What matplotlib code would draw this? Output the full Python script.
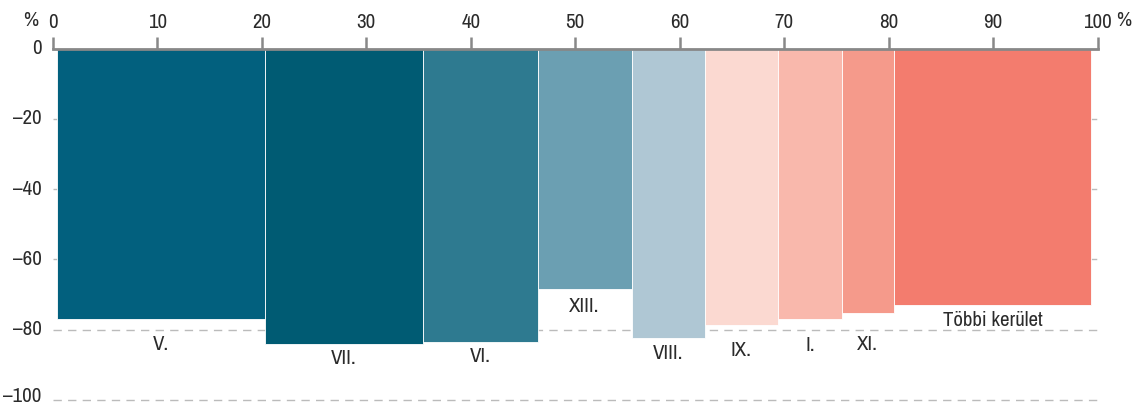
import matplotlib
matplotlib.use("Agg")
import matplotlib.pyplot as plt
from matplotlib import font_manager
from matplotlib.ticker import FixedLocator

# ---- data ----
districts = ["V.", "VII.", "VI.", "XIII.", "VIII.", "IX.", "I.", "XI.", "Többi kerület"]
shares = [19.85, 15.1, 11.0, 9.0, 7.0, 7.0, 6.1, 5.0, 18.9]        # bar widths (%)
values = [-77.0, -84.1, -83.5, -68.5, -82.4, -78.7, -77.0, -75.3, -73.0]  # bar heights (%)
label_y = [-84.1, -88.1, -87.5, -73.3, -86.9, -85.8, -84.4, -84.1, -77.3]
colors = ["#02607E", "#005B73", "#2E7A90", "#6B9FB2", "#AFC7D4",
          "#FBD9D1", "#F9B8AC", "#F59A8B", "#F37C6E"]
x_start = 0.45
x_ticks = [0, 10, 20, 30, 40, 50, 60, 70, 80, 90, 100]
y_ticks = [0, -20, -40, -60, -80, -100]

# look for a condensed / narrow face if one is installed
cond = None
for f in font_manager.fontManager.ttflist:
    nm = f.name
    if ("Condensed" in nm or "Narrow" in nm) and f.style == "normal":
        cond = nm
        break
FONT = ([cond] if cond else []) + ["Liberation Sans", "DejaVu Sans"]
plt.rcParams["font.family"] = FONT
TXT = "#2b2b2b"
FS = 15 if cond else 11.5

fig = plt.figure(figsize=(11.34, 4.07), dpi=100)
ax = fig.add_axes([0.0465, 0.0086, 0.9215, 0.8722])

lefts = []
pos = x_start
for w in shares:
    lefts.append(pos)
    pos += w

ax.bar(lefts, values, width=shares, align="edge", color=colors,
       edgecolor="#ffffff", linewidth=0.6, zorder=3)

for l, w, ly, name in zip(lefts, shares, label_y, districts):
    ax.text(l + w / 2, ly, name, ha="center", va="center",
            fontsize=FS, color=TXT, zorder=4)

ax.set_xlim(0, 100)
ax.set_ylim(-101, 0)

# gridlines
for yv in y_ticks[1:]:
    ax.axhline(yv, color="#bbbbbb", lw=1.0, ls=(0, (6, 4.5)), zorder=1,
               xmin=0, xmax=1.005, clip_on=False)

ax.xaxis.tick_top()
ax.xaxis.set_major_locator(FixedLocator(x_ticks))
ax.tick_params(axis="x", direction="out", length=9, width=1.8, color="#888888",
               labelsize=FS, labelcolor=TXT, pad=3)

# y labels drawn as text at the data positions
ax.set_yticks([])
for v in y_ticks:
    lab = "0" if v == 0 else "\u2013%d" % abs(v)
    dy = 3 if v == y_ticks[-1] else 0
    ax.annotate(lab, xy=(0, v), xycoords=("axes fraction", "data"),
                xytext=(-11, dy), textcoords="offset pixels",
                ha="right", va="center", fontsize=FS, color=TXT,
                annotation_clip=False)

for s in ["left", "right", "bottom"]:
    ax.spines[s].set_visible(False)
ax.spines["top"].set_color("#888888")
ax.spines["top"].set_linewidth(2.0)
ax.spines["top"].set_zorder(5)

fig.text(31 / 1134, 1 - 20 / 407, "%", ha="center", va="center", fontsize=FS, color=TXT)
fig.text(1124 / 1134, 1 - 20 / 407, "%", ha="center", va="center", fontsize=FS, color=TXT)

fig.savefig("out.png", dpi=100)
